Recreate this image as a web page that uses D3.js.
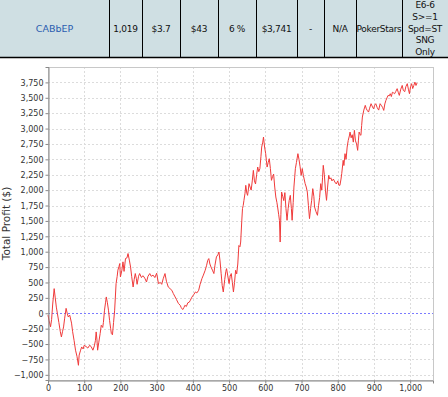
<!DOCTYPE html>
<html>
<head>
<meta charset="utf-8">
<script src="https://cdnjs.cloudflare.com/ajax/libs/d3/7.8.5/d3.min.js"></script>
<style>
  body { margin: 0; background: #fff; }
  svg { display: block; }
</style>
</head>
<body>
<div id="chart"></div>
<script>
// table row above the chart
var cellText = ["CABbEP", "1,019", "$3.7", "$43", "6 %", "$3,741", "-", "N/A", "PokerStars", "E6-6\nS>=1\nSpd=ST\nSNG\nOnly"];

// tick values
var yTicks = [-1000, -750, -500, -250, 0, 250, 500, 750, 1000, 1250, 1500, 1750, 2000, 2250, 2500, 2750, 3000, 3250, 3500, 3750];
var xTicks = [0, 100, 200, 300, 400, 500, 600, 700, 800, 900, 1000];

// hands played / total profit
var hands = [0, 3, 7, 10, 13, 17, 20, 23, 26, 30, 34, 37, 40, 43, 46, 50, 53, 56, 60, 65, 68, 72, 76, 80, 84, 86, 90, 93, 97, 100,
  105, 110, 115, 119, 124, 128, 131, 133, 135, 137, 140, 144, 147, 151, 153, 156, 159, 161, 164, 167, 170, 173, 175, 178, 181, 184, 188, 191, 193, 196,
  198, 200, 204, 207, 210, 214, 218, 221, 225, 228, 231, 235, 238, 241, 244, 246, 250, 253, 258, 262, 265, 268, 272, 276, 281, 285, 290, 295, 300, 305,
  310, 314, 318, 323, 327, 332, 337, 342, 346, 351, 355, 360, 365, 368, 372, 375, 378, 382, 386, 390, 393, 397, 402, 407, 411, 416, 420, 425, 429, 434,
  438, 441, 444, 447, 450, 454, 458, 461, 465, 469, 472, 475, 478, 481, 484, 488, 491, 493, 496, 500, 503, 506, 509, 512, 515, 518, 521, 524, 527, 530,
  532, 535, 537, 539, 541, 544, 546, 549, 551, 553, 555, 558, 561, 564, 567, 570, 573, 576, 579, 582, 585, 588, 590, 593, 595, 598, 601, 603, 605, 608,
  611, 614, 617, 620, 623, 626, 629, 632, 634, 637, 639, 641, 643, 645, 648, 651, 654, 657, 660, 663, 666, 669, 672, 674, 677, 679, 681, 683, 686, 690,
  693, 696, 699, 702, 705, 710, 713, 716, 719, 722, 725, 728, 731, 734, 736, 740, 744, 747, 750, 753, 756, 758, 760, 763, 766, 769, 772, 775, 778, 781,
  784, 788, 792, 796, 800, 803, 806, 809, 811, 815, 817, 820, 823, 826, 829, 832, 834, 837, 840, 843, 846, 849, 852, 855, 857, 859, 862, 864, 866, 868,
  872, 876, 879, 882, 885, 888, 892, 896, 899, 902, 905, 909, 913, 917, 921, 924, 927, 930, 933, 936, 939, 942, 945, 948, 951, 954, 957, 960, 964, 967,
  970, 974, 978, 981, 985, 988, 992, 995, 998, 1001, 1004, 1007, 1010, 1013, 1016, 1019];
var profit = [-30, -120, -220, -100, 150, 400, 250, 100, -5, -150, -300, -385, -300, -222, -80, 80, 0, -60, -30, -160, -300, -440, -600, -700, -845, -680, -600, -547, -580, -520,
  -540, -565, -520, -540, -600, -530, -440, -303, -420, -600, -480, -330, -195, -230, -150, 50, 180, 265, 170, 50, -115, -250, -330, -350, -150, 50, 482, 600, 700, 760,
  807, 590, 700, 835, 680, 890, 900, 970, 850, 750, 600, 427, 550, 645, 560, 470, 600, 645, 580, 610, 590, 560, 508, 600, 645, 600, 620, 580, 650, 482,
  500, 470, 560, 645, 520, 427, 400, 373, 320, 265, 220, 160, 130, 90, 60, 90, 130, 110, 170, 180, 210, 260, 300, 346, 330, 373, 470, 563, 620, 698,
  780, 860, 888, 800, 752, 700, 645, 780, 915, 950, 995, 850, 650, 450, 346, 550, 680, 725, 620, 482, 600, 645, 500, 346, 500, 698, 640, 800, 1100, 1080,
  1157, 1500, 1700, 1750, 1834, 1950, 2078, 1950, 1915, 2000, 2105, 2050, 2000, 2150, 2321, 2150, 2100, 2250, 2375, 2300, 2350, 2550, 2700, 2780, 2862, 2700, 2592, 2480, 2375, 2450,
  2510, 2350, 2159, 2220, 2260, 2050, 1888, 1800, 1726, 1600, 1510, 1157, 1600, 1969, 1900, 1830, 1960, 1700, 1510, 1700, 1834, 1915, 1700, 1510, 1800, 2050, 2200, 2348, 2450, 2592,
  2500, 2380, 2240, 2350, 2240, 2105, 2050, 1969, 1750, 1537, 1700, 1834, 2024, 1900, 1726, 1650, 1591, 1750, 1880, 2105, 2000, 2200, 2403, 2250, 2000, 1834, 2050, 2240, 2180, 2200,
  2150, 2180, 2132, 2100, 2150, 2080, 2078, 2180, 2268, 2484, 2400, 2592, 2500, 2700, 2808, 2880, 2943, 2850, 2900, 2780, 2971, 2800, 2750, 2646, 2800, 2943, 2900, 2890, 3050, 3187,
  3300, 3377, 3320, 3290, 3268, 3330, 3404, 3350, 3320, 3380, 3404, 3340, 3300, 3404, 3370, 3340, 3295, 3400, 3458, 3500, 3539, 3530, 3566, 3520, 3590, 3580, 3566, 3600, 3648, 3590,
  3539, 3640, 3701, 3620, 3600, 3680, 3729, 3640, 3566, 3680, 3729, 3650, 3700, 3755, 3700, 3741];

var W = 448, H = 397;
var svg = d3.select("#chart").append("svg").attr("width", W).attr("height", H);

// ---- table row ----
var colEdges = [0, 109, 142, 180, 218, 256, 297, 324, 356, 402, 448];
var rowH = 57;
svg.append("rect").attr("x", 0).attr("y", 0).attr("width", W).attr("height", rowH)
  .attr("fill", "#cfdfe3");
svg.selectAll(".sep").data(colEdges.slice(1, -1)).enter().append("line")
  .attr("x1", function(d) { return d + 0.5; }).attr("x2", function(d) { return d + 0.5; })
  .attr("y1", 0).attr("y2", rowH)
  .attr("stroke", "#000").attr("stroke-width", 1);
svg.append("line").attr("x1", 0).attr("x2", W).attr("y1", rowH + 0.5).attr("y2", rowH + 0.5)
  .attr("stroke", "#000").attr("stroke-width", 1.5);

cellText.forEach(function(t, i) {
  var cx = (colEdges[i] + colEdges[i + 1]) / 2;
  var lines = t.split("\n");
  var txt = svg.append("text")
    .attr("x", cx)
    .attr("text-anchor", "middle")
    .attr("font-family", "'DejaVu Sans', sans-serif")
    .attr("font-size", i == 0 ? "9.5px" : "9px")
    .attr("letter-spacing", i == 0 ? "0px" : "-0.3px")
    .attr("fill", i == 0 ? "#2a5db0" : "#111");
  var lh = 11.6;
  var y0 = rowH / 2 - (lines.length - 1) * lh / 2 + 3;
  lines.forEach(function(l, j) {
    txt.append("tspan").attr("x", cx).attr("y", y0 + j * lh).text(l);
  });
});

// ---- chart ----
var margin = { top: 67, right: 15, bottom: 17, left: 48 };
var x = d3.scaleLinear().domain([0, 1063]).range([margin.left, W - margin.right]);
var y = d3.scaleLinear().domain([-1084, 4000]).range([H - margin.bottom, margin.top]);

var g = svg.append("g");

// grid
g.selectAll(".hg").data(yTicks).enter().append("line")
  .attr("x1", margin.left).attr("x2", W - margin.right)
  .attr("y1", function(d) { return Math.round(y(d)) + 0.5; })
  .attr("y2", function(d) { return Math.round(y(d)) + 0.5; })
  .attr("stroke", "#dcdcdc").attr("stroke-dasharray", "2,2");
g.selectAll(".vg").data(xTicks).enter().append("line")
  .attr("y1", margin.top).attr("y2", H - margin.bottom)
  .attr("x1", function(d) { return Math.round(x(d)) + 0.5; })
  .attr("x2", function(d) { return Math.round(x(d)) + 0.5; })
  .attr("stroke", "#dcdcdc").attr("stroke-dasharray", "2,2");

// zero line
g.append("line")
  .attr("x1", margin.left).attr("x2", W - margin.right)
  .attr("y1", Math.round(y(0)) + 0.5).attr("y2", Math.round(y(0)) + 0.5)
  .attr("stroke", "#7b7bff").attr("stroke-dasharray", "2,2");

// plot outline
g.append("rect")
  .attr("x", margin.left + 0.5).attr("y", margin.top + 0.5)
  .attr("width", W - margin.right - margin.left).attr("height", H - margin.bottom - margin.top)
  .attr("fill", "none").attr("stroke", "#c8c8c8");

// profit line
var pts = hands.map(function(h, i) { return [h, profit[i]]; });
g.append("path").datum(pts)
  .attr("fill", "none").attr("stroke", "#f03a3a").attr("stroke-width", 1)
  .attr("stroke-linejoin", "round")
  .attr("d", d3.line().x(function(d) { return x(d[0]); }).y(function(d) { return y(d[1]); }));

// axes
var fmt = d3.format(",");
var yAxis = g.append("g").attr("transform", "translate(" + (margin.left + 0.5) + ",0)")
  .call(d3.axisLeft(y).tickValues(yTicks).tickSize(3).tickPadding(2).tickFormat(fmt));
var xAxis = g.append("g").attr("transform", "translate(0," + (H - margin.bottom + 0.5) + ")")
  .call(d3.axisBottom(x).tickValues(xTicks).tickSize(3).tickPadding(2).tickFormat(fmt));
[yAxis, xAxis].forEach(function(a) {
  a.select(".domain").attr("stroke", "#888");
  a.selectAll(".tick line").attr("stroke", "#888");
  a.selectAll(".tick text")
    .attr("font-family", "'DejaVu Sans', sans-serif")
    .attr("font-size", "8px")
    .attr("fill", "#333");
});
yAxis.selectAll(".tick text").attr("dy", "0.35em");

// y title
svg.append("text")
  .attr("transform", "translate(10," + ((margin.top + H - margin.bottom) / 2) + ") rotate(-90)")
  .attr("text-anchor", "middle")
  .attr("font-family", "'DejaVu Sans', sans-serif")
  .attr("font-size", "10.5px")
  .attr("fill", "#333")
  .text("Total Profit ($)");
</script>
</body>
</html>
